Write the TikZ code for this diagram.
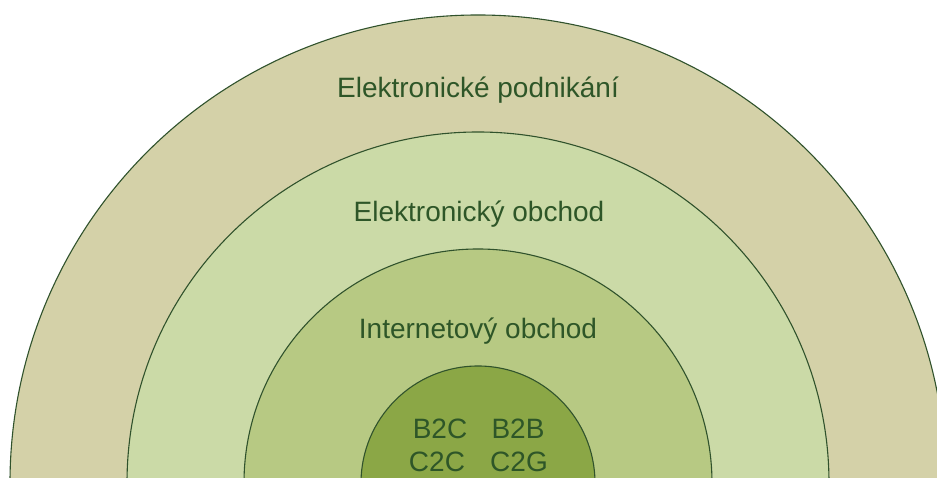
\documentclass[tikz,border=0pt]{standalone}
\usepackage{fontspec}
\setmainfont{Liberation Sans}
\definecolor{ringA}{RGB}{212,209,168}
\definecolor{ringB}{RGB}{203,218,167}
\definecolor{ringC}{RGB}{183,201,131}
\definecolor{ringD}{RGB}{139,167,70}
\definecolor{edge}{RGB}{48,82,44}
\definecolor{label}{RGB}{46,86,40}
\tikzset{
  ring/.style={draw=edge, line width=1.1pt},
  ringlabel/.style={text=label, anchor=base, inner sep=0pt,
    font=\fontsize{28}{32}\selectfont},
}
\begin{document}
\begin{tikzpicture}[x=1pt,y=1pt]
  \useasboundingbox (0,0) rectangle (937,478);
  \fill[white] (0,0) rectangle (937,478);
  \clip (0,0) rectangle (937,478);
  % concentric half discs, common centre just below the lower edge
  \coordinate (c) at (478,-5);
  \filldraw[ring, fill=ringA] (c) circle[radius=468];
  \filldraw[ring, fill=ringB] (c) circle[radius=351];
  \filldraw[ring, fill=ringC] (c) circle[radius=234];
  \filldraw[ring, fill=ringD] (c) circle[radius=117];
  % labels
  \node[ringlabel] (ep) at (478,380) {Elektronické podnikání};
  \node[ringlabel] (eo) at (479,256) {Elektronický obchod};
  \node[ringlabel] (io) at (478,139) {Internetový obchod};
  \node[ringlabel] (b2c) at (440,39) {B2C};
  \node[ringlabel] (b2b) at (518,39) {B2B};
  \node[ringlabel] (c2c) at (437,6) {C2C};
  \node[ringlabel] (c2g) at (519,6) {C2G};
\end{tikzpicture}
\end{document}
